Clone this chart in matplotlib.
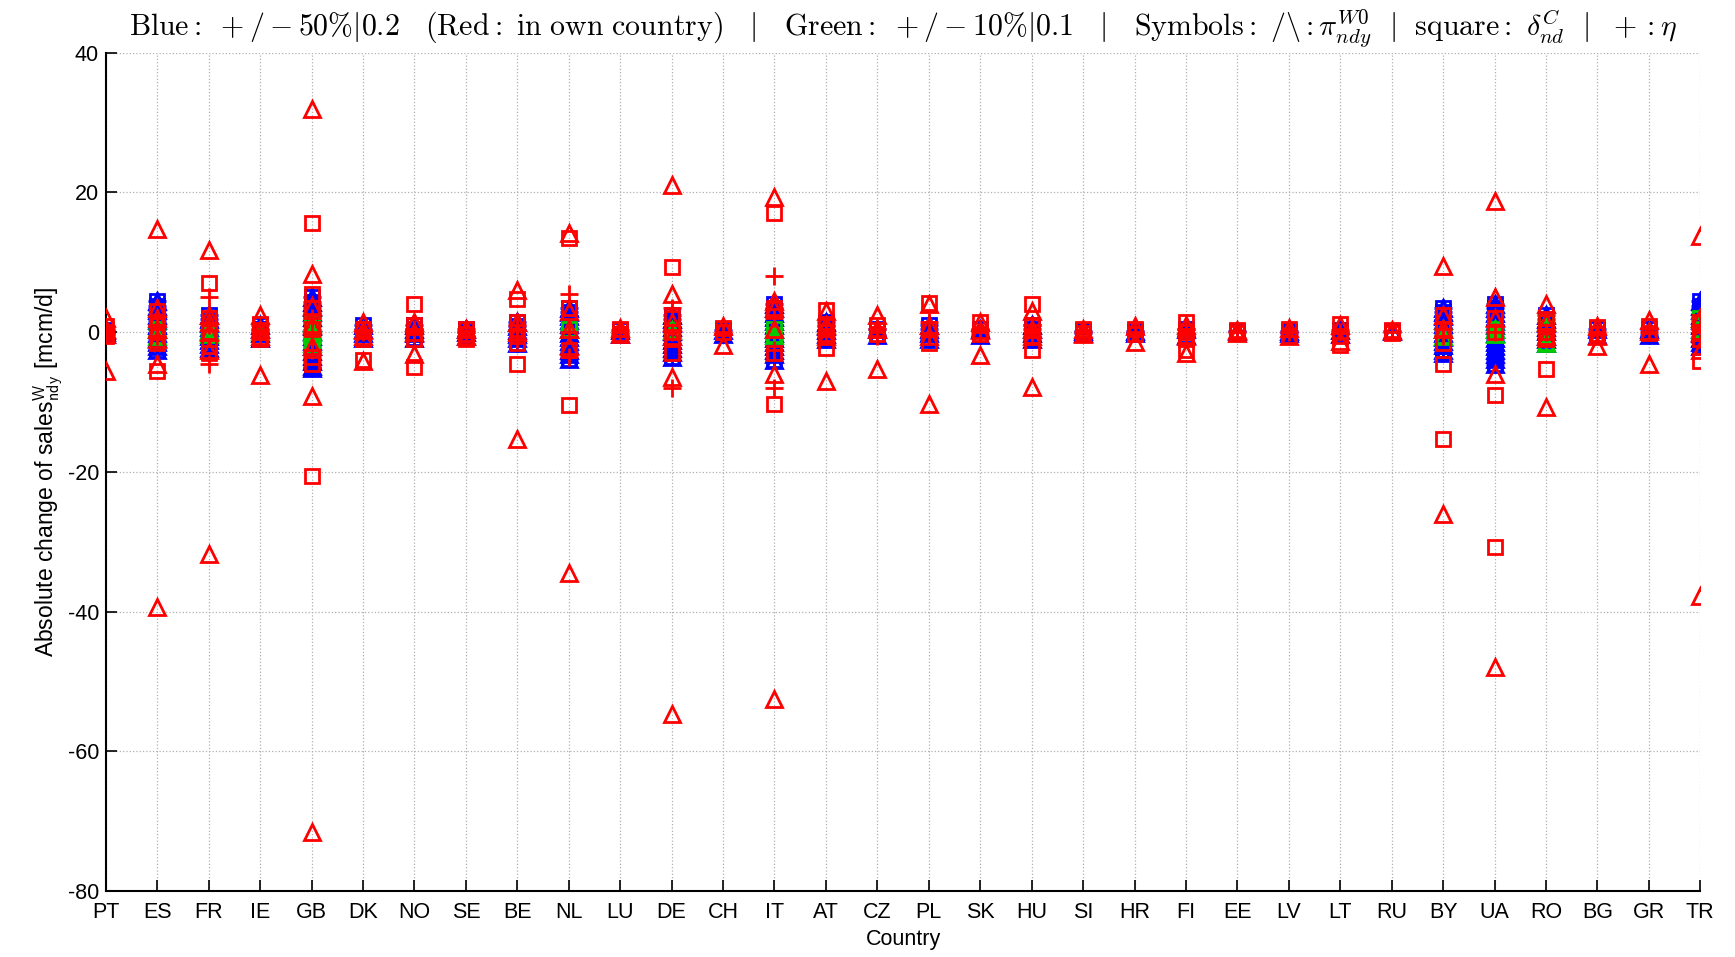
import numpy as np
import matplotlib
matplotlib.use("Agg")
import matplotlib.pyplot as plt

plt.rcParams['font.family'] = ['Liberation Sans', 'DejaVu Sans']
plt.rcParams['mathtext.fontset'] = 'cm'
plt.rcParams['axes.unicode_minus'] = False

paises = ["PT", "ES", "FR", "IE", "GB", "DK", "NO", "SE", "BE", "NL", "LU", "DE", "CH", "IT",
          "AT", "CZ", "PL", "SK", "HU", "SI", "HR", "FI", "EE", "LV", "LT", "RU", "BY", "UA",
          "RO", "BG", "GR", "TR"]

# red = change in own country
rojo_triangulos = {
    "PT": [2.0, 0.5, -0.3, -5.5], "ES": [14.7, 3.5, 2.0, 0.5, -1.0, -4.5, -39.3],
    "FR": [11.8, 2.5, 1.5, 0.0, -2.5, -31.7], "IE": [2.5, 0.5, -0.5, -6.2],
    "GB": [32.0, 8.3, 3.8, 1.0, -2.0, -9.2, -71.5], "DK": [1.5, 0.3, -0.5, -4.2],
    "NO": [1.5, 0.0, -3.2], "SE": [0.5, -0.5], "BE": [6.0, 1.5, 0.0, -15.3],
    "NL": [14.2, 3.0, 0.5, -2.0, -34.5], "LU": [0.6, -0.3],
    "DE": [21.0, 5.5, 1.5, -0.5, -6.5, -54.7], "CH": [0.8, -1.8],
    "IT": [19.4, 4.5, 3.5, 0.5, -6.0, -52.5], "AT": [3.0, 1.0, -0.5, -7.0],
    "CZ": [2.5, 0.5, -5.3], "PL": [4.0, 1.0, -0.5, -10.3], "SK": [1.5, 0.3, -3.3],
    "HU": [3.0, 0.5, -0.5, -7.8], "SI": [0.5, -0.3], "HR": [0.8, -1.4],
    "FI": [1.0, -0.5, -3.0], "EE": [0.3, -0.2], "LV": [0.6, -0.6], "LT": [1.0, -1.3],
    "RU": [0.3], "BY": [9.5, 2.5, 0.5, -26.0], "UA": [18.8, 5.0, 2.0, -6.0, -48.0],
    "RO": [4.0, 1.5, -0.5, -10.7], "BG": [0.8, -0.5, -2.0], "GR": [1.7, 0.2, -4.5],
    "TR": [13.8, 2.0, 0.0, -2.5, -37.8],
}
rojo_cuadrados = {
    "PT": [0.8, 0.0, -0.5], "ES": [3.0, 1.5, 0.0, -1.5, -5.5], "FR": [7.0, 2.0, 0.0, -2.0, -3.0],
    "IE": [1.2, 0.0, -1.0], "GB": [15.6, 5.5, 3.5, 0.5, -3.5, -4.5, -20.6],
    "DK": [0.5, -1.0, -4.0], "NO": [4.0, 1.0, -1.0, -5.0], "SE": [0.5, -0.3, -1.0],
    "BE": [4.8, 1.5, -0.5, -1.5, -4.6], "NL": [13.5, 3.5, -2.5, -10.5], "LU": [0.5, -0.3],
    "DE": [9.3, 2.0, 0.0, -3.0], "CH": [0.6, 0.0], "IT": [17.0, 3.5, -3.0, -10.3],
    "AT": [3.2, 1.0, -0.5, -2.3], "CZ": [1.0, -0.3], "PL": [4.2, 0.5, -1.5],
    "SK": [1.5, -0.3], "HU": [4.0, 1.0, -0.5, -2.5], "SI": [0.4, -0.2], "HR": [0.5, -0.3],
    "FI": [1.5, 0.0, -1.0, -2.5], "EE": [0.3, -0.2], "LV": [0.5, -0.5],
    "LT": [1.2, -0.5, -1.8], "RU": [0.3, -0.1], "BY": [2.5, 0.5, -1.5, -4.5, -15.3],
    "UA": [2.0, 0.0, -9.0, -30.8], "RO": [1.5, 0.0, -1.0, -5.3], "BG": [0.7, -0.3],
    "GR": [0.8, -0.2], "TR": [1.5, 0.0, -1.0, -4.2],
}
rojo_cruces = {
    "PT": [0.5, -0.3], "ES": [1.0, -0.5], "FR": [5.0, 1.0, -4.5], "IE": [0.3, -0.3],
    "GB": [2.0, 0.0, -2.5], "DK": [0.0], "NO": [0.5, -0.3], "SE": [0.0], "BE": [1.0, -1.0],
    "NL": [5.5, 0.0, -3.5], "LU": [0.0], "DE": [3.5, 0.0, -8.0], "CH": [0.0],
    "IT": [8.0, 2.0, -2.5, -8.0], "AT": [1.0, -0.5], "CZ": [0.5, -0.5], "PL": [1.5, -0.5],
    "SK": [0.0], "HU": [1.0, -0.5], "SI": [0.0], "HR": [0.0], "FI": [0.5, -0.5],
    "EE": [0.0], "LV": [0.0], "LT": [0.0], "RU": [0.0], "BY": [0.5, -0.5], "UA": [0.0],
    "RO": [0.0], "BG": [0.0], "GR": [0.0], "TR": [1.0, -1.0],
}
# blue = +/-50% variation, all three symbols
azul = {
    "PT": [0.3, 0.0, -0.3],
    "ES": [4.5, 3.8, 3.1, 2.4, 1.7, 1.0, 0.4, -0.2, -0.8, -1.4, -2.0, -2.5],
    "FR": [2.5, 1.9, 1.3, 0.7, 0.1, -0.5, -1.1, -1.7, -2.3],
    "IE": [1.0, 0.4, -0.2, -0.8],
    "GB": [5.0, 4.3, 3.6, 2.9, 2.2, 1.5, 0.8, 0.1, -0.6, -1.3, -2.0, -2.7, -3.4, -4.1, -4.8, -5.2],
    "DK": [1.0, 0.4, -0.2, -0.8],
    "NO": [1.0, 0.4, -0.2, -0.8],
    "SE": [0.5, 0.0, -0.5],
    "BE": [1.5, 0.9, 0.3, -0.3, -0.9, -1.5],
    "NL": [3.5, 2.9, 2.3, 1.7, 1.1, 0.5, -0.1, -0.7, -1.3, -1.9, -2.5, -3.1, -3.8],
    "LU": [0.3, -0.3],
    "DE": [2.5, 1.9, 1.3, 0.7, 0.1, -0.5, -1.1, -1.7, -2.3, -2.9, -3.5],
    "CH": [0.3, -0.3],
    "IT": [4.0, 3.4, 2.8, 2.2, 1.6, 1.0, 0.4, -0.2, -0.8, -1.4, -2.0, -2.6, -3.2, -4.0],
    "AT": [1.5, 0.9, 0.3, -0.3, -1.0],
    "CZ": [0.4, -0.4],
    "PL": [1.0, 0.4, -0.2, -1.0],
    "SK": [0.4, -0.4],
    "HU": [1.0, 0.4, -0.2, -1.0],
    "SI": [0.2, -0.2], "HR": [0.2, -0.2], "FI": [0.4, -0.4], "EE": [0.1], "LV": [0.2, -0.2],
    "LT": [0.3, -0.3], "RU": [0.1],
    "BY": [3.5, 2.9, 2.3, 1.7, 1.1, 0.5, -0.1, -0.7, -1.3, -1.9, -2.5, -3.0],
    "UA": [4.0, 3.4, 2.8, 2.2, 1.6, 1.0, 0.4, -0.2, -0.8, -1.4, -2.0, -2.6, -3.2, -3.8, -4.5],
    "RO": [2.5, 1.9, 1.3, 0.7, 0.1, -0.5, -1.0, -1.5],
    "BG": [0.4, -0.4], "GR": [0.4, -0.4],
    "TR": [4.5, 3.8, 3.1, 2.4, 1.7, 1.0, 0.4, -0.2, -0.8, -1.4, -2.0],
}
# green = +/-10% variation
verde = {
    "ES": [0.5, -0.5], "FR": [0.3, -0.3], "IE": [0.2], "GB": [1.5, 0.0, -1.5],
    "NL": [0.4], "DE": [0.3], "IT": [0.4, -0.4], "UA": [0.5, -0.3],
    "BY": [0.5, -0.5], "RO": [1.5, -1.5], "TR": [2.0, 0.5],
}

fig = plt.figure(figsize=(17.35, 9.57), dpi=100)
ax = fig.add_axes([0.061, 0.069, 0.919, 0.876])

def dibujar(datos, marcador, color, tam, zorder):
    for i, p in enumerate(paises):
        vals = datos.get(p, [])
        if len(vals) == 0:
            continue
        ax.plot([i + 1] * len(vals), vals, linestyle="none", marker=marcador,
                markersize=tam, markerfacecolor="none", markeredgecolor=color,
                markeredgewidth=2.0, zorder=zorder)

for m, s in [("^", 11), ("s", 10), ("+", 13)]:
    dibujar(azul, m, "blue", s, 3)
for m, s in [("^", 11), ("s", 10), ("+", 13)]:
    dibujar(verde, m, "#00cc00", s, 4)
dibujar(rojo_triangulos, "^", "red", 11, 5)
dibujar(rojo_cuadrados, "s", "red", 10, 5)
dibujar(rojo_cruces, "+", "red", 13, 5)

ax.set_xlim(1, len(paises))
ax.set_ylim(-80, 40)
ax.set_xticks(np.arange(1, len(paises) + 1))
ax.set_xticklabels(paises, fontsize=15.5)
ax.set_yticks(np.arange(-80, 41, 20))
ax.tick_params(axis="y", labelsize=15.5, pad=5)
ax.tick_params(axis="x", pad=8)
ax.tick_params(direction="in", length=8, width=1.2)
ax.grid(True, linestyle=":", color="#b0b0b0", linewidth=0.9)
ax.spines["top"].set_visible(False)
ax.spines["right"].set_visible(False)
ax.spines["left"].set_linewidth(1.5)
ax.spines["bottom"].set_linewidth(1.5)

ax.set_xlabel("Country", fontsize=15.5, labelpad=4)
ax.set_ylabel(r"Absolute change of sales$^{\mathsf{W}}_{\mathsf{ndy}}$ [mcm/d]", fontsize=16.5, labelpad=2)

titulo = (r"$\mathrm{Blue{:}}\ +/-50\%|0.2\quad\mathrm{(Red{:}\ in\ own\ country)}\quad|\quad"
          r"\mathrm{Green{:}}\ +/-10\%|0.1\quad|\quad\mathrm{Symbols{:}}\ /\backslash:\pi^{W0}_{ndy}\ \ |\ \ "
          r"\mathrm{square{:}}\ \delta^{C}_{nd}\ \ |\ \ +:\eta$")
ax.set_title(titulo, fontsize=21.5, pad=12)

fig.savefig("out.png", dpi=100)
